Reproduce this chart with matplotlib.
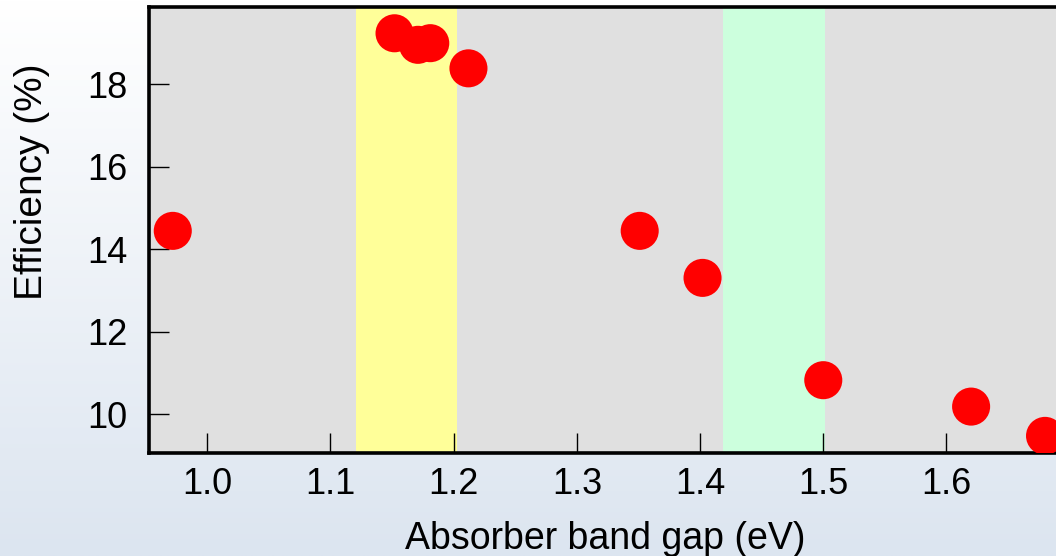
import numpy as np
import matplotlib
matplotlib.use("Agg")
import matplotlib.pyplot as plt

# Data
band_gap = [0.972, 1.152, 1.171, 1.181, 1.212, 1.351, 1.402, 1.500, 1.620, 1.680]
efficiency = [14.44, 19.23, 18.95, 18.99, 18.38, 14.44, 13.30, 10.82, 10.18, 9.47]
yellow_band = (1.121, 1.203)
green_band = (1.419, 1.501)
x_ticks = [1.0, 1.1, 1.2, 1.3, 1.4, 1.5, 1.6]
y_ticks = [10, 12, 14, 16, 18]

plt.rcParams['font.family'] = ['Liberation Sans', 'DejaVu Sans']

W, H = 1056, 556
fig = plt.figure(figsize=(W / 100, H / 100), dpi=100)

# Gradient background
bg = fig.add_axes([0, 0, 1, 1], zorder=-10)
top = np.array([1.0, 1.0, 1.0])
bot = np.array([220, 229, 240]) / 255.0
t = np.linspace(0, 1, 256)[:, None]
grad = (top * (1 - t) + bot * t)[:, None, :]
grad = np.repeat(grad, 2, axis=1)
bg.imshow(grad, aspect='auto', extent=[0, 1, 0, 1], origin='upper')
bg.set_axis_off()

left_px, top_px, bottom_px = 148.5, 7, 453
ax = fig.add_axes([left_px / W, (H - bottom_px) / H, (W - left_px) / W, (bottom_px - top_px) / H])
ax.set_facecolor('#e0e0e0')
ax.axvspan(*yellow_band, color='#ffff99', lw=0, zorder=1)
ax.axvspan(*green_band, color='#ccffdd', lw=0, zorder=1)
ax.scatter(band_gap, efficiency, s=27.4 ** 2, color='#ff0000', edgecolors='none', zorder=3)

ax.set_xlim(0.9523, 1.6889)
ax.set_ylim(9.055, 19.867)
ax.set_xticks(x_ticks)
ax.set_xticklabels([f"{v:.1f}" for v in x_ticks])
ax.set_yticks(y_ticks)
ax.set_yticklabels([str(v) for v in y_ticks])
ax.tick_params(direction='in', length=14.5, width=1.0, labelsize=26, colors='black')
ax.tick_params(axis='x', pad=10)
ax.tick_params(axis='y', pad=15)
for s in ['left', 'top', 'bottom']:
    ax.spines[s].set_linewidth(2.6)
    ax.spines[s].set_color('black')
ax.spines['right'].set_visible(False)

ax.set_xlabel('Absorber band gap (eV)', fontsize=27)
ax.set_ylabel('Efficiency (%)', fontsize=28)
ax.xaxis.set_label_coords((605 - left_px) / (W - left_px), -(549 - bottom_px) / (bottom_px - top_px))
ax.xaxis.label.set_va('baseline')
ax.yaxis.set_label_coords(-(148.5 - 50) / (W - left_px), (bottom_px - 182) / (bottom_px - top_px))

fig.savefig('out.png', dpi=100)
